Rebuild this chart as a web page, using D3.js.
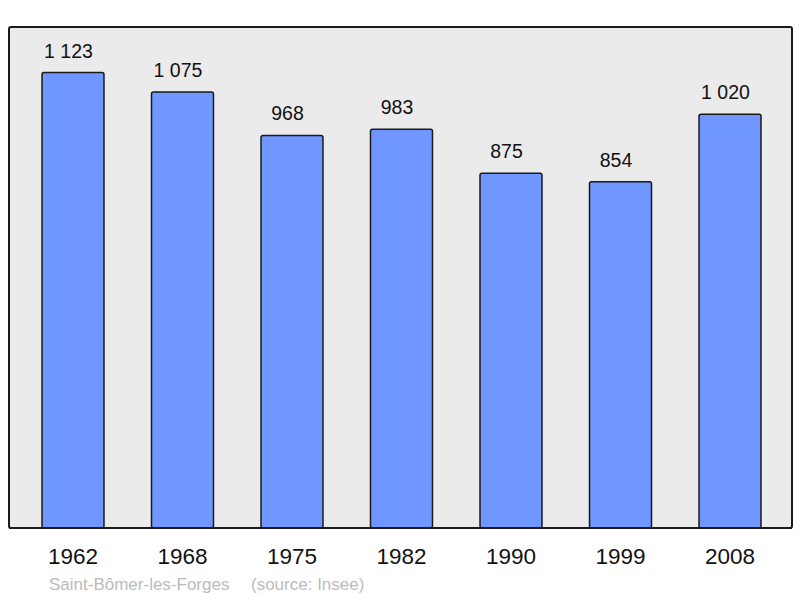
<!DOCTYPE html>
<html>
<head>
<meta charset="utf-8">
<script src="https://cdn.jsdelivr.net/npm/d3@7"></script>
<style>
  html, body { margin: 0; padding: 0; background: #fff; }
  svg { display: block; font-family: 'Liberation Sans', Arial, sans-serif; }
</style>
</head>
<body>
<svg id="chart" width="800" height="598"></svg>
<script>
// population by census year
const years = ['1962', '1968', '1975', '1982', '1990', '1999', '2008'];
const population = [1123, 1075, 968, 983, 875, 854, 1020];
const valueLabels = ['1 123', '1 075', '968', '983', '875', '854', '1 020'];
const caption = 'Saint-Bômer-les-Forges';
const source = '(source: Insee)';

const svg = d3.select('#chart');
const panel = { x: 9, y: 27, w: 783, h: 501 };

const x = d3.scaleBand()
  .domain(years)
  .range([42, 761])
  .paddingInner(0.434)
  .paddingOuter(0);

const y = d3.scaleLinear()
  .domain([0, d3.max(population) * 1.1])
  .range([panel.y + panel.h, panel.y]);

svg.append('rect')
  .attr('x', panel.x).attr('y', panel.y)
  .attr('width', panel.w).attr('height', panel.h)
  .attr('rx', 2)
  .attr('fill', '#ebebeb')
  .attr('stroke', '#1a1a1a').attr('stroke-width', 2);

const data = years.map((yr, i) => ({ yr, v: population[i], lbl: valueLabels[i] }));

svg.append('g').selectAll('rect')
  .data(data).enter().append('rect')
  .attr('x', d => x(d.yr))
  .attr('y', d => y(d.v))
  .attr('width', x.bandwidth())
  .attr('height', d => y(0) - y(d.v))
  .attr('rx', 2)
  .attr('fill', '#7096ff')
  .attr('stroke', '#1a1a1a').attr('stroke-width', 1.5);

// redraw panel bottom edge over the bars
svg.append('line')
  .attr('x1', panel.x).attr('x2', panel.x + panel.w)
  .attr('y1', panel.y + panel.h).attr('y2', panel.y + panel.h)
  .attr('stroke', '#1a1a1a').attr('stroke-width', 2);

// value labels sit a little left of the bar centre in the original
svg.append('g').selectAll('text')
  .data(data).enter().append('text')
  .attr('x', d => x(d.yr) + x.bandwidth() / 2 - 4.5)
  .attr('y', d => y(d.v) - 15)
  .attr('text-anchor', 'middle')
  .attr('font-size', 19.5)
  .attr('fill', '#111')
  .text(d => d.lbl);

svg.append('g').selectAll('text')
  .data(years).enter().append('text')
  .attr('x', d => x(d) + x.bandwidth() / 2)
  .attr('y', 564)
  .attr('text-anchor', 'middle')
  .attr('font-size', 22.5)
  .attr('fill', '#111')
  .text(d => d);

svg.append('text')
  .attr('x', 49).attr('y', 590)
  .attr('font-size', 17)
  .attr('fill', '#bbbbbb')
  .text(caption);

svg.append('text')
  .attr('x', 251).attr('y', 590)
  .attr('font-size', 17)
  .attr('fill', '#bbbbbb')
  .text(source);
</script>
</body>
</html>
